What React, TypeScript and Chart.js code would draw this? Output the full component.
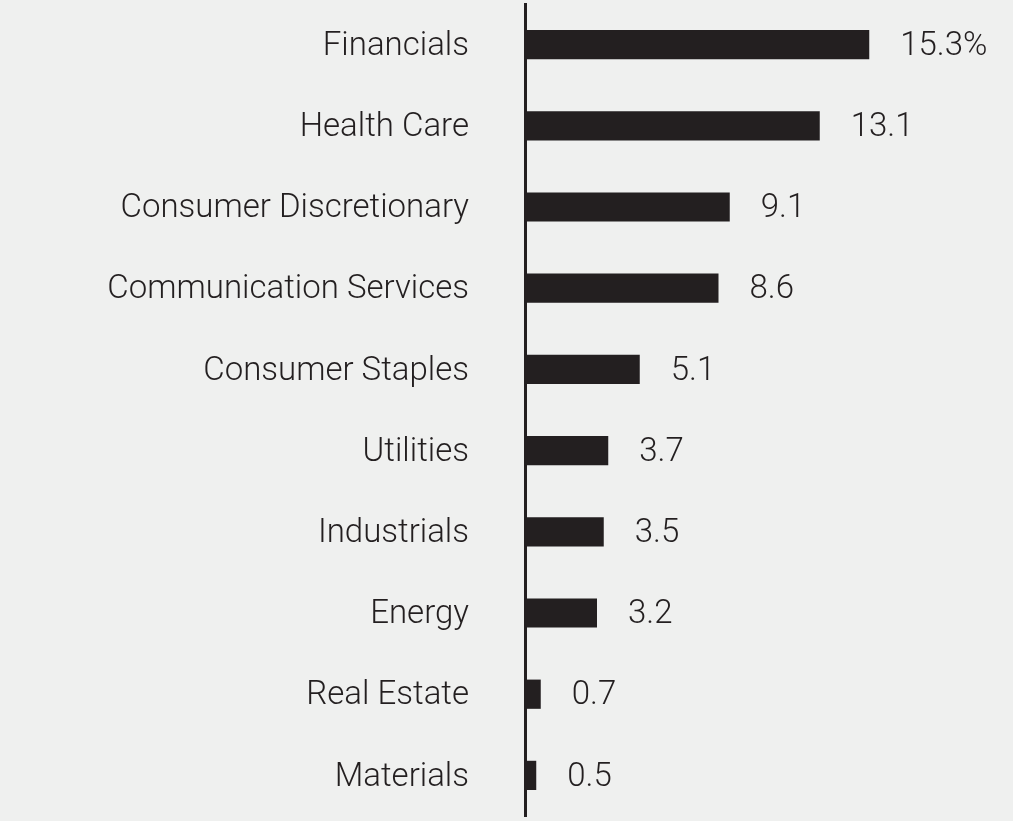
import React, { useEffect, useRef } from "react";
import { Chart, registerables } from "chart.js";

Chart.register(...registerables);

const categories = [
  "Financials",
  "Health Care",
  "Consumer Discretionary",
  "Communication Services",
  "Consumer Staples",
  "Utilities",
  "Industrials",
  "Energy",
  "Real Estate",
  "Materials",
];
const values = [15.3, 13.1, 9.1, 8.6, 5.1, 3.7, 3.5, 3.2, 0.7, 0.5];
const valueLabels = ["15.3%", "13.1", "9.1", "8.6", "5.1", "3.7", "3.5", "3.2", "0.7", "0.5"];

const BG = "#eff0ef";
const INK = "#231f20";
const FONT = "Roboto, 'Open Sans', sans-serif";
const FONT_SIZE = 33;

export default function App() {
  const ref = useRef<HTMLCanvasElement | null>(null);

  useEffect(() => {
    document.body.style.margin = "0";
    const canvas = ref.current;
    if (!canvas) return;

    const valuePlugin = {
      id: "valueLabels",
      afterDatasetsDraw(chart: any) {
        const ctx = chart.ctx;
        const meta = chart.getDatasetMeta(0);
        const xs = chart.scales.x;
        ctx.save();
        ctx.fillStyle = INK;
        ctx.font = `300 ${FONT_SIZE}px ${FONT}`;
        ctx.textAlign = "left";
        ctx.textBaseline = "middle";
        meta.data.forEach((bar: any, i: number) => {
          const x = xs.getPixelForValue(values[i]) + 31;
          ctx.fillText(valueLabels[i], x, bar.y + 2);
        });
        ctx.restore();
      },
    };

    const chart = new Chart(canvas, {
      type: "bar",
      data: {
        labels: categories,
        datasets: [
          {
            data: values,
            backgroundColor: INK,
            borderWidth: 0,
            categoryPercentage: 1,
            barPercentage: 0.36,
          },
        ],
      },
      options: {
        indexAxis: "y",
        animation: false,
        responsive: false,
        devicePixelRatio: 1,
        layout: { padding: { top: 4, bottom: 5, left: 0, right: 38 } },
        plugins: { legend: { display: false }, tooltip: { enabled: false } },
        scales: {
          x: {
            display: false,
            min: 0,
            max: 20,
          },
          y: {
            type: "category",
            offset: true,
            grid: { display: false, drawTicks: false },
            border: { display: true, color: INK, width: 3 },
            ticks: {
              color: INK,
              padding: 56,
              labelOffset: 2,
              font: { family: FONT, size: FONT_SIZE, weight: "300" as any },
            },
            afterFit(scale: any) {
              scale.width = 525;
              scale.paddingTop = 0;
              scale.paddingBottom = 0;
            },
          },
        },
      },
      plugins: [valuePlugin],
    });
    return () => chart.destroy();
  }, []);

  return (
    <div style={{ width: 1013, height: 821, background: BG }}>
      <canvas ref={ref} width={1013} height={821} style={{ display: "block" }} />
    </div>
  );
}
